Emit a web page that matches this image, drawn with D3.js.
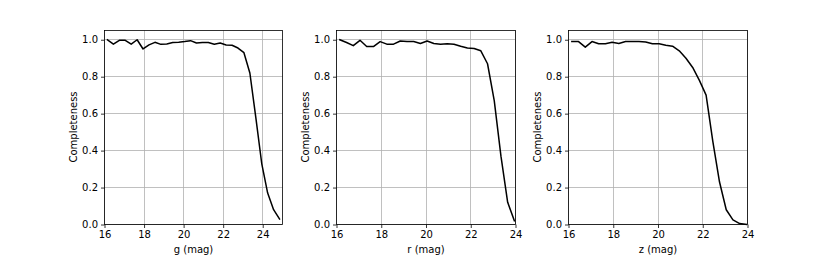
<!DOCTYPE html>
<html>
<head>
<meta charset="utf-8">
<script src="https://cdn.jsdelivr.net/npm/d3@7"></script>
<style>
  html, body { margin: 0; padding: 0; background: #fff; }
  svg { display: block; }
  text { font-family: "DejaVu Sans", sans-serif; fill: #000; }
</style>
</head>
<body>
<svg id="chart" width="830" height="256"></svg>
<script>
// ---- data (bin centres, 0.3 mag bins starting at 16) ----
const gMag = [16.15,16.45,16.75,17.05,17.35,17.65,17.95,18.25,18.55,18.85,19.15,19.45,19.75,20.05,20.35,20.65,20.95,21.25,21.55,21.85,22.15,22.45,22.75,23.05,23.35,23.65,23.95,24.25,24.55,24.85];
const gCompleteness = [1.0,0.976,0.997,0.997,0.976,1.0,0.95,0.972,0.986,0.975,0.977,0.985,0.987,0.99,0.995,0.982,0.985,0.985,0.976,0.982,0.972,0.97,0.955,0.93,0.82,0.58,0.33,0.17,0.08,0.03];

const rMag = [16.15,16.45,16.75,17.05,17.35,17.65,17.95,18.25,18.55,18.85,19.15,19.45,19.75,20.05,20.35,20.65,20.95,21.25,21.55,21.85,22.15,22.45,22.75,23.05,23.35,23.65,23.95];
const rCompleteness = [1.0,0.985,0.968,0.997,0.963,0.963,0.99,0.976,0.976,0.993,0.99,0.99,0.98,0.993,0.98,0.976,0.978,0.976,0.965,0.955,0.953,0.94,0.87,0.67,0.37,0.12,0.02];

const zMag = [16.15,16.45,16.75,17.05,17.35,17.65,17.95,18.25,18.55,18.85,19.15,19.45,19.75,20.05,20.35,20.65,20.95,21.25,21.55,21.85,22.15,22.45,22.75,23.05,23.35,23.65,23.95];
const zCompleteness = [0.99,0.99,0.96,0.99,0.978,0.978,0.986,0.98,0.99,0.99,0.99,0.988,0.978,0.978,0.97,0.965,0.94,0.90,0.85,0.78,0.70,0.45,0.23,0.08,0.025,0.005,0.0];

const xTicks = [16, 18, 20, 22, 24];
const yTicks = [0.0, 0.2, 0.4, 0.6, 0.8, 1.0];
const xLabels = ["g (mag)", "r (mag)", "z (mag)"];
const yLabel = "Completeness";
const xDomains = [[16, 25], [16, 24], [16, 24]];
const yDomain = [0, 1.05];

const panels = [
  { mag: gMag, comp: gCompleteness, xlabel: xLabels[0], xdom: xDomains[0] },
  { mag: rMag, comp: rCompleteness, xlabel: xLabels[1], xdom: xDomains[1] },
  { mag: zMag, comp: zCompleteness, xlabel: xLabels[2], xdom: xDomains[2] }
];

// ---- layout ----
const W = 830, H = 256;
const figLeft = 0.125 * W, figRight = 0.9 * W, wspace = 0.3;
const pw = (figRight - figLeft) / (3 + 2 * wspace);
const gap = pw * wspace;
const plotTop = 30, plotBottom = 224;
const fs = 10;

const svg = d3.select("#chart");

panels.forEach((p, i) => {
  const x0 = Math.round(figLeft + i * (pw + gap)) + 0.5;
  const x1 = Math.round(figLeft + i * (pw + gap) + pw) + 0.5;
  const x = d3.scaleLinear().domain(p.xdom).range([x0, x1]);
  const y = d3.scaleLinear().domain(yDomain).range([plotBottom + 0.5, plotTop + 0.5]);

  const g = svg.append("g");

  // grid
  g.selectAll(".vg").data(xTicks).join("line")
    .attr("x1", d => Math.round(x(d) - 0.5) + 0.5).attr("x2", d => Math.round(x(d) - 0.5) + 0.5)
    .attr("y1", y(yDomain[0])).attr("y2", y(yDomain[1]))
    .attr("stroke", "#b0b0b0").attr("stroke-width", 0.8);
  g.selectAll(".hg").data(yTicks).join("line")
    .attr("x1", x0).attr("x2", x1)
    .attr("y1", d => Math.round(y(d) - 0.5) + 0.5).attr("y2", d => Math.round(y(d) - 0.5) + 0.5)
    .attr("stroke", "#b0b0b0").attr("stroke-width", 0.8);

  // data line
  const line = d3.line().x((d, k) => x(p.mag[k])).y(d => y(d));
  g.append("path").datum(p.comp)
    .attr("d", line)
    .attr("fill", "none").attr("stroke", "#000").attr("stroke-width", 1.5)
    .attr("stroke-linejoin", "round").attr("stroke-linecap", "square");

  // axes
  const xAxis = d3.axisBottom(x).tickValues(xTicks).tickFormat(d3.format("d"))
    .tickSize(3.5).tickPadding(3);
  const gx = g.append("g").attr("transform", `translate(0,${plotBottom + 0.5})`).call(xAxis);
  const yAxis = d3.axisLeft(y).tickValues(yTicks).tickFormat(d3.format(".1f"))
    .tickSize(3.5).tickPadding(3);
  const gy = g.append("g").attr("transform", `translate(${x0},0)`).call(yAxis);
  [gx, gy].forEach(a => {
    a.select(".domain").remove();
    a.selectAll(".tick line").attr("stroke", "#000").attr("stroke-width", 0.8);
    a.selectAll(".tick text").attr("font-size", fs).attr("font-family", "DejaVu Sans").attr("fill", "#000");
  });

  // frame (spines)
  g.append("rect")
    .attr("x", x0).attr("y", plotTop + 0.5)
    .attr("width", x1 - x0).attr("height", plotBottom - plotTop)
    .attr("fill", "none").attr("stroke", "#000").attr("stroke-width", 0.8);

  // labels
  g.append("text")
    .attr("x", (x0 + x1) / 2).attr("y", 249)
    .attr("text-anchor", "middle").attr("dominant-baseline", "central")
    .attr("font-size", fs).text(p.xlabel);
  g.append("text")
    .attr("transform", `translate(${x0 - 31},${(plotTop + plotBottom) / 2}) rotate(-90)`)
    .attr("text-anchor", "middle").attr("dominant-baseline", "central")
    .attr("font-size", fs).text(yLabel);
});
</script>
</body>
</html>
